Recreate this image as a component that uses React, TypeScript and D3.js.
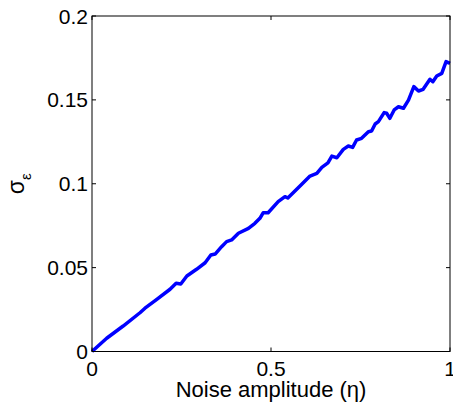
import React from "react";
import * as d3 from "d3";

const etaValues = [0, 0.041, 0.087, 0.134, 0.148, 0.181, 0.218, 0.235, 0.248, 0.265, 0.292, 0.316, 0.332, 0.344, 0.362, 0.376, 0.39, 0.409, 0.437, 0.455, 0.469, 0.478, 0.492, 0.52, 0.539, 0.547, 0.581, 0.609, 0.628, 0.642, 0.659, 0.67, 0.684, 0.702, 0.716, 0.728, 0.739, 0.753, 0.772, 0.781, 0.791, 0.8, 0.816, 0.823, 0.832, 0.844, 0.856, 0.87, 0.884, 0.899, 0.912, 0.925, 0.944, 0.952, 0.963, 0.977, 0.989, 1.0];
const sigmaValues = [0, 0.0079, 0.0152, 0.0231, 0.0258, 0.0311, 0.0371, 0.0407, 0.0402, 0.045, 0.049, 0.0529, 0.0575, 0.0581, 0.0625, 0.0655, 0.0665, 0.0705, 0.0734, 0.0764, 0.0794, 0.0827, 0.0827, 0.0893, 0.0923, 0.0915, 0.0987, 0.1046, 0.1062, 0.1098, 0.1125, 0.1165, 0.1155, 0.1205, 0.1225, 0.1217, 0.1261, 0.1271, 0.131, 0.1314, 0.1356, 0.137, 0.1424, 0.142, 0.139, 0.144, 0.1459, 0.145, 0.1499, 0.1579, 0.1553, 0.1563, 0.1623, 0.1608, 0.1642, 0.1658, 0.1728, 0.1718];
const xTicks = [0, 0.5, 1];
const xTickLabels = ["0", "0.5", "1"];
const yTicks = [0, 0.05, 0.1, 0.15, 0.2];
const yTickLabels = ["0", "0.05", "0.1", "0.15", "0.2"];

const W = 453, H = 403;
const left = 92, right = 450, top = 16, bottom = 351.5;
const font = "Liberation Sans, Arial, Helvetica, sans-serif";

export default function App() {
  const x = d3.scaleLinear().domain([0, 1]).range([left, right]);
  const y = d3.scaleLinear().domain([0, 0.2]).range([bottom, top]);
  const pts: [number, number][] = etaValues.map((e, i) => [e, sigmaValues[i]]);
  const line = d3.line<[number, number]>().x(d => x(d[0])).y(d => y(d[1]));
  const tl = 4;
  return (
    <svg width={W} height={H} style={{ position: "absolute", left: 0, top: 0, background: "#fff" }}>
      <rect x={0} y={0} width={W} height={H} fill="#fff" />
      <path d={line(pts) || ""} fill="none" stroke="#0000ff" strokeWidth={3.5} strokeLinejoin="round" />
      <rect x={left} y={top} width={right - left} height={bottom - top} fill="none" stroke="#000" strokeWidth={1} />
      {xTicks.map((t, i) => (
        <g key={"x" + i}>
          <line x1={x(t)} x2={x(t)} y1={bottom} y2={bottom - tl} stroke="#000" />
          <line x1={x(t)} x2={x(t)} y1={top} y2={top + tl} stroke="#000" />
          <text x={x(t)} y={376} textAnchor="middle" fontFamily={font} fontSize={21} fill="#000">{xTickLabels[i]}</text>
        </g>
      ))}
      {yTicks.map((t, i) => (
        <g key={"y" + i}>
          <line x1={left} x2={left + tl} y1={y(t)} y2={y(t)} stroke="#000" />
          <line x1={right} x2={right - tl} y1={y(t)} y2={y(t)} stroke="#000" />
          <text x={88} y={y(t)} dy="0.36em" textAnchor="end" fontFamily={font} fontSize={21} fill="#000">{yTickLabels[i]}</text>
        </g>
      ))}
      <text x={(left + right) / 2} y={397} textAnchor="middle" fontFamily={font} fontSize={22} fill="#000">Noise amplitude (η)</text>
      <text transform={`translate(24, ${(top + bottom) / 2}) rotate(-90)`} textAnchor="middle" fontFamily={font} fontSize={23} fill="#000">
        σ<tspan fontSize={15} dy={7}>ε</tspan>
      </text>
    </svg>
  );
}
